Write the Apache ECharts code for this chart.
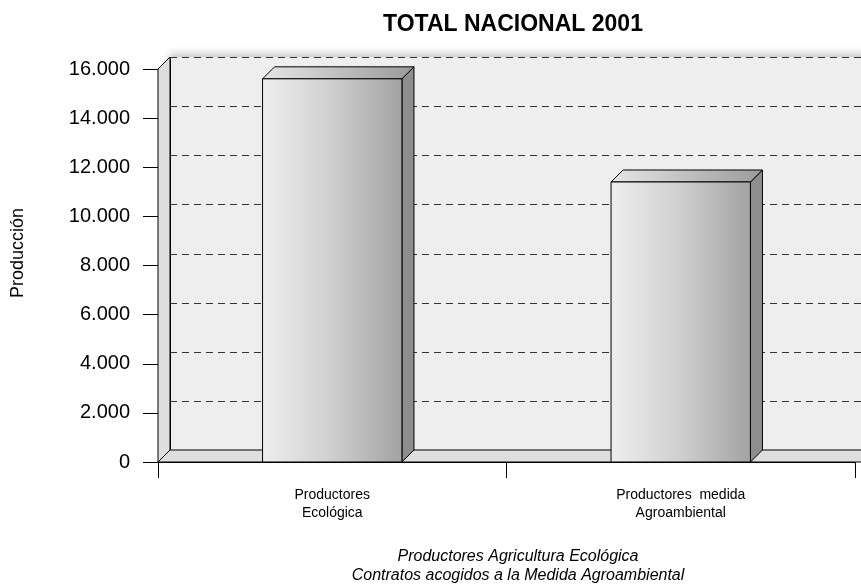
<!DOCTYPE html>
<html>
<head>
<meta charset="utf-8">
<script src="https://cdn.jsdelivr.net/npm/echarts@6/dist/echarts.min.js"></script>
<style>
  html, body { margin: 0; padding: 0; background: #fff; }
  #chart { width: 861px; height: 587px; }
</style>
</head>
<body>
<div id="chart"></div>
<script>
  // datos
  var categories = ['Productores\nEcológica', 'Productores  medida\nAgroambiental'];
  var values = [15600, 11400];
  var yTicks = [0, 2000, 4000, 6000, 8000, 10000, 12000, 14000, 16000];
  var notes = ['Productores Agricultura Ecológica', 'Contratos acogidos a la Medida Agroambiental'];

  var DX = 12, DY = 12; // profundidad 3D

  var chartDom = document.getElementById('chart');
  var myChart = echarts.init(chartDom);

  function fmt(v) {
    return String(v).replace(/\B(?=(\d{3})+(?!\d))/g, '.');
  }

  // paredes, suelo y lineas de la rejilla
  function renderWalls(params, api) {
    var cs = params.coordSys;
    var x0 = cs.x, y0 = cs.y, x1 = cs.x + cs.width, yb = cs.y + cs.height;
    var children = [];
    // pared del fondo
    children.push({
      type: 'rect',
      shape: { x: x0 + DX, y: y0 - DY, width: 900, height: yb - y0 },
      style: { fill: '#eeeeee', shadowColor: 'rgba(0,0,0,0.25)', shadowBlur: 8, shadowOffsetY: -3 }
    });
    // pared izquierda
    children.push({
      type: 'polygon',
      shape: { points: [[x0, y0], [x0 + DX, y0 - DY], [x0 + DX, yb - DY], [x0, yb]] },
      style: { fill: '#dedede', stroke: '#000', lineWidth: 1 }
    });
    // suelo
    children.push({
      type: 'polygon',
      shape: { points: [[x0, yb], [x0 + DX, yb - DY], [x1 + 20, yb - DY], [x1 + 8, yb]] },
      style: { fill: '#dedede', stroke: '#000', lineWidth: 1 }
    });
    // rejilla discontinua
    yTicks.forEach(function (v) {
      if (v === 0) return;
      var y = Math.round(api.coord([0, v])[1]) - DY + 0.5;
      children.push({
        type: 'line',
        shape: { x1: x0 + DX, y1: y, x2: 870, y2: y },
        style: { stroke: '#333', lineWidth: 1, lineDash: [7, 5] }
      });
    });
    // borde izquierdo de la pared del fondo
    children.push({
      type: 'line',
      shape: { x1: x0 + DX + 0.5, y1: y0 - DY, x2: x0 + DX + 0.5, y2: yb - DY },
      style: { stroke: '#000', lineWidth: 1 }
    });
    return { type: 'group', children: children };
  }

  // barras 3D
  function renderBar(params, api) {
    var idx = api.value(0);
    var base = api.coord([idx, 0]);
    var top = api.coord([idx, api.value(1)]);
    var w = api.size([1, 0])[0] * 0.4;
    var xl = base[0] - w / 2, xr = base[0] + w / 2;
    var yt = top[1], yb = base[1];
    return {
      type: 'group',
      children: [
        {
          type: 'polygon',
          shape: { points: [[xr, yt], [xr + DX, yt - DY], [xr + DX, yb - DY], [xr, yb]] },
          style: { fill: '#8e8e8e', stroke: '#000', lineWidth: 1 }
        },
        {
          type: 'polygon',
          shape: { points: [[xl, yt], [xl + DX, yt - DY], [xr + DX, yt - DY], [xr, yt]] },
          style: {
            fill: new echarts.graphic.LinearGradient(0, 0, 1, 0, [
              { offset: 0, color: '#e6e6e6' }, { offset: 1, color: '#9a9a9a' }
            ]),
            stroke: '#000', lineWidth: 1
          }
        },
        {
          type: 'rect',
          shape: { x: xl, y: yt, width: w, height: yb - yt },
          style: {
            fill: new echarts.graphic.LinearGradient(0, 0, 1, 0, [
              { offset: 0, color: '#eeeeee' }, { offset: 0.5, color: '#cfcfcf' }, { offset: 1, color: '#a2a2a2' }
            ]),
            stroke: '#000', lineWidth: 1
          }
        }
      ]
    };
  }

  var option = {
    animation: false,
    title: {
      text: 'TOTAL NACIONAL 2001',
      left: 508, top: 8, textAlign: 'center',
      textStyle: { fontFamily: 'Liberation Sans', fontSize: 23, fontWeight: 'bold', color: '#000' }
    },
    grid: { left: 158, top: 69, right: 6, bottom: 125, outerBoundsMode: 'none', containLabel: false },
    xAxis: {
      type: 'category',
      data: categories,
      axisLine: { show: true, lineStyle: { color: '#000', width: 1 } },
      axisTick: { show: true, length: 16, lineStyle: { color: '#000' } },
      axisLabel: {
        margin: 24, color: '#000', lineHeight: 18,
        fontFamily: 'Liberation Sans Narrow, Liberation Sans', fontSize: 14
      },
      splitLine: { show: false }
    },
    yAxis: {
      type: 'value',
      min: 0, max: 16000, interval: 2000,
      axisLine: { show: true, lineStyle: { color: '#000', width: 1 } },
      axisTick: { show: true, length: 15, lineStyle: { color: '#000' } },
      axisLabel: {
        margin: 28, color: '#000',
        fontFamily: 'Liberation Sans', fontSize: 20,
        formatter: function (v) { return fmt(v); }
      },
      splitLine: { show: false }
    },
    graphic: [
      {
        type: 'text', x: 18, y: 253, rotation: Math.PI / 2,
        style: { text: 'Producción', align: 'center', verticalAlign: 'middle',
          font: '18px "Liberation Sans"', fill: '#000' }
      },
      {
        type: 'text', x: 518, y: 557,
        style: { text: notes[0], align: 'center', verticalAlign: 'middle',
          font: 'italic 16px "Liberation Sans"', fill: '#000' }
      },
      {
        type: 'text', x: 518, y: 576,
        style: { text: notes[1], align: 'center', verticalAlign: 'middle',
          font: 'italic 16px "Liberation Sans"', fill: '#000' }
      }
    ],
    series: [
      {
        type: 'custom',
        z: 1,
        silent: true,
        data: [[0, 0]],
        renderItem: renderWalls
      },
      {
        type: 'custom',
        z: 3,
        data: values.map(function (v, i) { return [i, v]; }),
        renderItem: renderBar
      }
    ]
  };

  option && myChart.setOption(option);
</script>
</body>
</html>
